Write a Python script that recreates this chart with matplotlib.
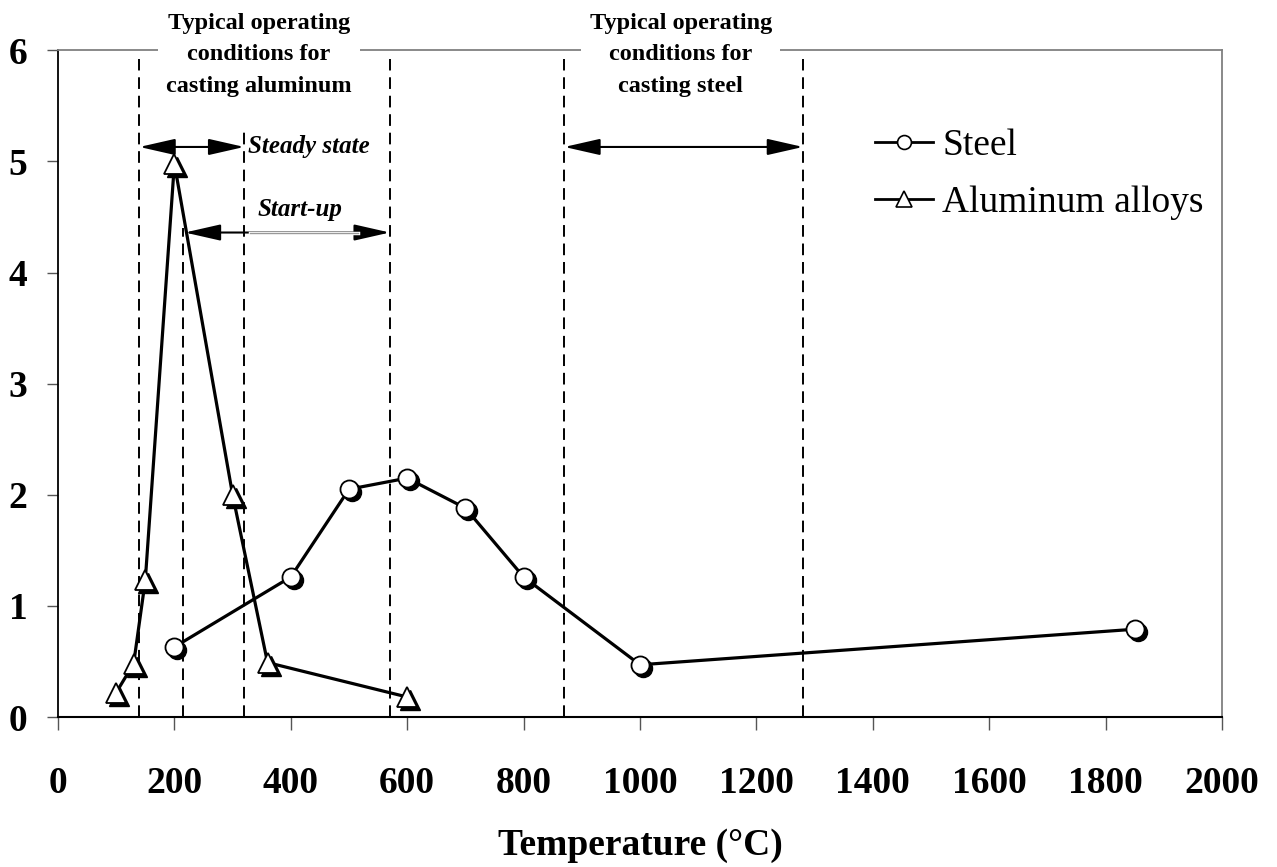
import numpy as np
import matplotlib
matplotlib.use('Agg')
import matplotlib.pyplot as plt
from matplotlib.lines import Line2D
from matplotlib.transforms import offset_copy

plt.rcParams['font.family'] = ['Liberation Serif', 'DejaVu Serif']

# data
steel_T = [200, 400, 500, 600, 700, 800, 1000, 1850]
steel_y = [0.63, 1.26, 2.05, 2.15, 1.88, 1.26, 0.47, 0.79]
alu_T = [100, 130, 150, 200, 300, 360, 600]
alu_y = [0.22, 0.48, 1.23, 4.98, 2.0, 0.49, 0.18]

# operating windows (dashed lines) and their top ends
alu_lines = [140, 215, 320, 570]
alu_tops = [5.92, 4.40, 5.28, 5.92]
steel_lines = [870, 1280]
steel_tops = [5.92, 5.92]

xticks = np.arange(0, 2001, 200)
yticks = np.arange(0, 7, 1)

fig = plt.figure(figsize=(12.77, 8.67), dpi=100)
ax = fig.add_axes([0.0454, 0.173, 0.9116, 0.769])

# shadow markers, offset down-right
shadow = offset_copy(ax.transData, fig=fig, x=3, y=-3, units='dots')
ax.plot(steel_T, steel_y, 'o', ms=13, color='black', transform=shadow, zorder=3)
ax.plot(alu_T, alu_y, '^', ms=14, color='black', transform=shadow, zorder=3)

ax.plot(steel_T, steel_y, '-', color='black', lw=2.3, zorder=2.8)
ax.plot(alu_T, alu_y, '-', color='black', lw=2.3, zorder=2.8)
ax.plot(steel_T, steel_y, 'o', ms=13, mfc='white', mec='black', mew=1.3, zorder=4)
ax.plot(alu_T, alu_y, '^', ms=14, mfc='white', mec='black', mew=1.3, zorder=4)

for x, top in zip(alu_lines + steel_lines, alu_tops + steel_tops):
    ax.plot([x, x], [0, top], color='black', lw=1.4, ls=(0, (6, 3.5)), zorder=2)

arw = dict(arrowstyle='<|-|>,head_length=1.1,head_width=0.25', color='black',
           lw=1.5, shrinkA=0, shrinkB=0, mutation_scale=20)

# steady state
ax.annotate('', xy=(140, 5.13), xytext=(320, 5.13), arrowprops=arw)
ax.text(327, 5.13, 'Steady state', fontsize=18, fontweight='bold', style='italic',
        ha='left', va='center')

# start-up
ax.annotate('', xy=(218, 4.36), xytext=(570, 4.36), arrowprops=arw)
ax.plot([330, 515], [4.36, 4.36], color='white', lw=2.5, zorder=3)
ax.plot([330, 515], [4.36, 4.36], color='#999999', lw=1.0, zorder=3.1)
ax.text(415, 4.57, 'Start-up', fontsize=18, fontweight='bold', style='italic',
        ha='center', va='center')

# steel window
ax.annotate('', xy=(870, 5.13), xytext=(1280, 5.13), arrowprops=arw)

box = dict(facecolor='white', edgecolor='none', pad=6)
ax.text(345, 5.96, 'Typical operating\nconditions for\ncasting aluminum', fontsize=17.5,
        fontweight='bold', ha='center', va='center', linespacing=1.65, bbox=box,
        zorder=6, clip_on=False)
ax.text(1070, 5.96, 'Typical operating\nconditions for\ncasting steel', fontsize=17.5,
        fontweight='bold', ha='center', va='center', linespacing=1.65, bbox=box,
        zorder=6, clip_on=False)

ax.set_xlim(0, 2000)
ax.set_ylim(0, 6)
ax.set_xticks(xticks)
ax.set_yticks(yticks)
ax.tick_params(axis='x', direction='out', length=9, width=1, color='#555555',
               labelsize=27, pad=26)
ax.tick_params(axis='y', direction='out', length=8, width=1, color='#555555',
               labelsize=27, pad=14)
for lab in ax.get_xticklabels() + ax.get_yticklabels():
    lab.set_fontweight('bold')

ax.set_xlabel('Temperature (°C)', fontsize=27, fontweight='bold', labelpad=20)

ax.spines['top'].set_color('#808080')
ax.spines['right'].set_color('#808080')
ax.spines['top'].set_linewidth(1.3)
ax.spines['right'].set_linewidth(1.3)
ax.spines['left'].set_linewidth(1.3)
ax.spines['bottom'].set_linewidth(1.5)

handles = [Line2D([], [], color='black', lw=2, marker='o', ms=10, mfc='white', mec='black', mew=1.2),
           Line2D([], [], color='black', lw=2, marker='^', ms=11, mfc='white', mec='black', mew=1.2)]
fig.legend(handles, ['Steel', 'Aluminum alloys'], loc='upper left',
           bbox_to_anchor=(0.685, 0.852), frameon=False, fontsize=27,
           handlelength=1.55, handletextpad=0.25, labelspacing=0.6, borderpad=0,
           borderaxespad=0)

fig.savefig('out.png', dpi=100, facecolor='white')
